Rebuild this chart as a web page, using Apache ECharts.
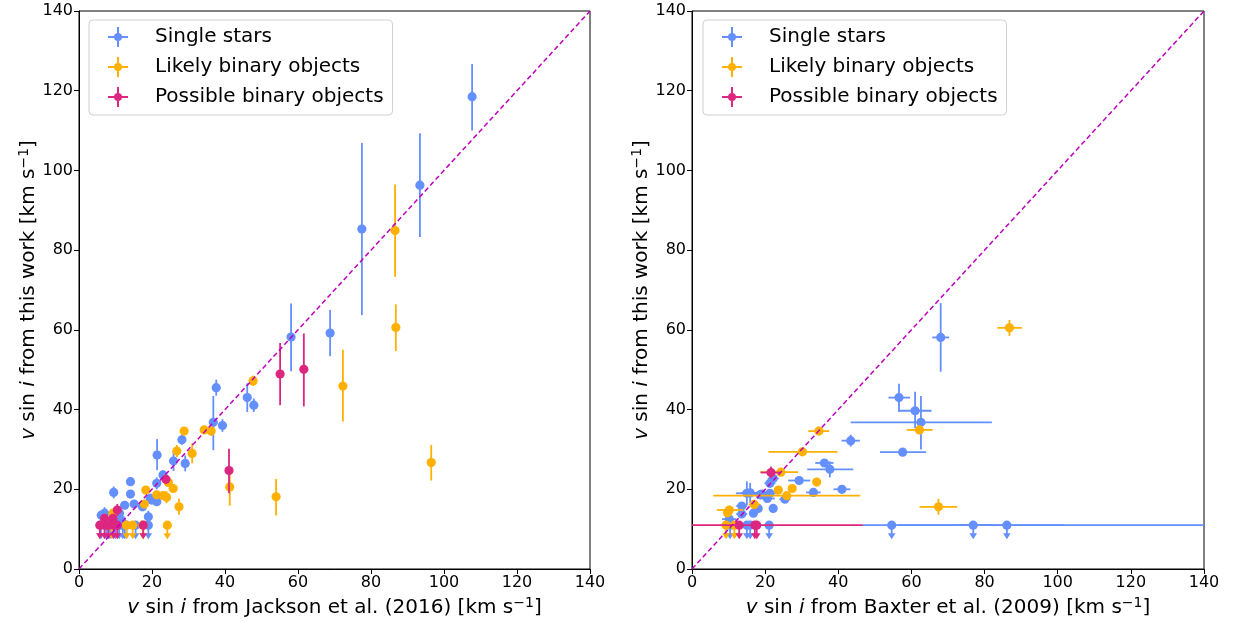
<!DOCTYPE html>
<html>
<head>
<meta charset="utf-8">
<script src="https://cdn.jsdelivr.net/npm/echarts@6/dist/echarts.min.js"></script>
<style>
  html, body { margin: 0; padding: 0; background: #fff; }
  #container { width: 1237px; height: 626px; }
</style>
</head>
<body>
<div id="container"></div>
<script>
// groups
const groupNames = ['Single stars', 'Likely binary objects', 'Possible binary objects'];
const groupColors = ['#648FFF', '#FFB000', '#DC267F'];

// value used for the upper limits (y)
const limitValue = 11;

// left panel: [x, y, yErrDown, yErrUp]
const leftSingle = [
  [107.7, 118.5, 8.5, 8.2], [93.4, 96.3, 13, 13], [77.5, 85.3, 21.6, 21.6],
  [68.8, 59.2, 5.8, 5.8], [58.1, 58.2, 8.6, 8.4], [46.1, 43, 3.6, 3.6],
  [47.9, 41.1, 1.7, 1.7], [37.6, 45.5, 2, 2], [36.8, 36.8, 7, 6.6],
  [39.3, 36, 1.6, 1.6], [21.4, 28.6, 3.8, 4], [14.1, 21.9, 1, 1],
  [9.5, 19.2, 1.5, 1.5], [14.1, 18.8, 1, 1], [28.2, 32.4, 1.2, 1.2],
  [25.9, 27.1, 2.5, 2.5], [29.1, 26.5, 2, 2], [23, 23.6, 1.2, 1.2],
  [21.3, 21.5, 1.5, 1.5], [19.5, 17.7, 1.2, 1.2], [21.3, 16.9, 1, 1],
  [19.9, 17.3, 1, 1], [15.1, 16.3, 1, 1], [12.5, 16, 1, 1],
  [17.4, 15.6, 1, 1], [19, 13.1, 1.5, 1.5], [6.1, 13.5, 1, 1],
  [7, 14, 1.5, 1.5], [9.3, 12.7, 1, 1], [11.1, 14, 1.2, 1.2], [11.6, 12.3, 1, 1]
];
const leftLikely = [
  [86.6, 84.9, 11.6, 11.6], [86.8, 60.6, 5.9, 5.8], [96.5, 26.7, 4.5, 4.4],
  [72.3, 45.9, 8.9, 9.1], [54, 18.1, 4.7, 4.5], [41.3, 20.6, 4.7, 3.4],
  [47.7, 47.2, 1.3, 1.3], [34.3, 34.9, 1, 1], [36.2, 34.6, 1.2, 1.2],
  [28.8, 34.6, 1, 1], [26.8, 29.6, 1.5, 1.5], [31, 29, 2.5, 2.5],
  [24.5, 21.7, 1, 1], [25.8, 20.2, 1, 1], [18.3, 19.8, 1, 1],
  [21.3, 18.6, 1, 1], [23.1, 18.4, 1, 1], [24, 18, 1.5, 1.5],
  [17.9, 16.3, 1, 1], [27.4, 15.6, 2, 2], [9.3, 14, 1, 1]
];
const leftPossible = [
  [55.1, 48.9, 7.8, 7.8], [61.6, 50.1, 9.3, 9], [41.1, 24.7, 5.7, 5.5],
  [23.8, 22.5, 1, 1], [10.5, 14.8, 1.5, 1.5], [7, 12.7, 1, 1], [9.3, 12.7, 1, 1]
];
// left panel upper limits: x
const leftSingleLimits = [6, 7.5, 8.5, 10, 11, 12, 12.5, 13, 15.5, 19];
const leftLikelyLimits = [9, 13, 14.7, 17.5, 24.2];
const leftPossibleLimits = [5.7, 7, 8, 9.5, 10.5, 17.6];

// right panel: [x, y, xErrDown, xErrUp, yErrDown, yErrUp]
const rightSingle = [
  [68, 58.1, 2.3, 2.3, 8.6, 8.6], [56.6, 43, 2.9, 3, 3.6, 3.5],
  [61, 39.7, 4.4, 4.5, 4.3, 4.8], [62.6, 36.8, 19.2, 19.4, 6.8, 6.6],
  [43.4, 32.2, 2.5, 2.5, 1.5, 1.5], [57.6, 29.3, 6.2, 6.4, 0.5, 0.5],
  [36.2, 26.6, 2.5, 2.5, 0.5, 0.5], [37.7, 25, 6.2, 6.4, 2, 2],
  [29.3, 22.2, 3, 3, 0.5, 0.5], [33.2, 19.2, 2, 2, 0.5, 0.5],
  [41, 20, 2.3, 2.3, 0.5, 0.5], [22.2, 15.2, 1, 1, 0.5, 0.5],
  [15, 19, 3, 3, 3, 3], [15.9, 19.1, 2.5, 2.5, 2.5, 2.5],
  [19.1, 18.8, 2, 2, 1, 1], [21.3, 19, 2, 2, 1, 1], [20.6, 17.7, 2, 2, 1, 1],
  [22.2, 22.7, 1.5, 1.5, 1, 1], [21.3, 21.5, 1.5, 1.5, 1, 1],
  [18.6, 18.6, 1.5, 1.5, 1, 1], [25.4, 17.5, 1.5, 1.5, 0.5, 0.5],
  [13.6, 15.8, 1.5, 1.5, 0.5, 0.5], [13.6, 13.8, 1.5, 1.5, 0.5, 0.5],
  [16.8, 14, 1, 1, 0.5, 0.5], [18.1, 15.2, 1, 1, 0.5, 0.5], [10.2, 12.5, 2, 2, 0.5, 0.5]
];
const rightLikely = [
  [86.8, 60.5, 3.3, 3.4, 2, 2], [62.2, 34.9, 3.5, 3.6, 0.5, 0.5],
  [34.7, 34.6, 2.9, 2.8, 0.5, 0.5], [30.2, 29.4, 9.3, 9.6, 0.3, 0.3],
  [24.3, 24.3, 5.7, 4.7, 0.5, 0.5], [34.1, 21.8, 1, 1, 0.5, 0.5],
  [27.4, 20.2, 1, 1, 0.5, 0.5], [23.6, 19.8, 1, 1, 0.5, 0.5],
  [25.9, 18.4, 20.1, 20.1, 0.3, 0.3], [67.4, 15.6, 5.2, 5.1, 2, 2],
  [17, 16.2, 1.5, 1.5, 1, 1], [10.2, 14.8, 3.4, 3.8, 1, 1], [9.7, 14.1, 1, 1, 0.5, 0.5]
];
const rightPossible = [
  [21.6, 24.2, 2.8, 2.5, 1.5, 1.5]
];
// right panel upper limits: [x, xErrDown, xErrUp]
const rightSingleLimits = [
  [10.4, 1, 1], [15, 1, 1], [15.9, 1, 1], [21.1, 1, 1],
  [54.6, 8, 47], [76.9, 5, 5], [86.1, 30, 60]
];
const rightLikelyLimits = [[9.3, 1, 1], [11.6, 1, 1]];
const rightPossibleLimits = [[12.9, 12.9, 33.8], [17.2, 1, 1], [17.7, 1, 1]];

// ---- build items [x, y, xdn, xup, ydn, yup, isLimit]
function leftItems(points, limits) {
  return points.map(p => [p[0], p[1], 0, 0, p[2], p[3], 0])
    .concat(limits.map(x => [x, limitValue, 0, 0, 0, 0, 1]));
}
function rightItems(points, limits) {
  return points.map(p => [p[0], p[1], p[2], p[3], p[4], p[5], 0])
    .concat(limits.map(l => [l[0], limitValue, l[1], l[2], 0, 0, 1]));
}

function renderErr(color) {
  return function (params, api) {
    const x = api.value(0), y = api.value(1);
    const xdn = api.value(2), xup = api.value(3);
    const ydn = api.value(4), yup = api.value(5);
    const isLimit = api.value(6);
    const c = api.coord([x, y]);
    const lw = 1.8;
    const kids = [];
    if (xdn || xup) {
      const a = api.coord([x - xdn, y]), b = api.coord([x + xup, y]);
      kids.push({ type: 'line', shape: { x1: a[0], y1: a[1], x2: b[0], y2: b[1] },
        style: { stroke: color, lineWidth: lw } });
    }
    if (ydn || yup) {
      const a = api.coord([x, y - ydn]), b = api.coord([x, y + yup]);
      kids.push({ type: 'line', shape: { x1: a[0], y1: a[1], x2: b[0], y2: b[1] },
        style: { stroke: color, lineWidth: lw } });
    }
    if (isLimit) {
      kids.push({ type: 'line', shape: { x1: c[0], y1: c[1], x2: c[0], y2: c[1] + 9 },
        style: { stroke: color, lineWidth: lw } });
      kids.push({ type: 'polygon',
        shape: { points: [[c[0] - 3.8, c[1] + 8], [c[0] + 3.8, c[1] + 8], [c[0], c[1] + 14]] },
        style: { fill: color } });
    }
    kids.push({ type: 'circle', shape: { cx: c[0], cy: c[1], r: 4.6 }, style: { fill: color } });
    return { type: 'group', children: kids };
  };
}

const legendIcon = 'path://M9,0h2v20h-2z M0,9h20v2h-20z M6,10a4,4 0 1,1 8,0a4,4 0 1,1 -8,0z';

const font = 'DejaVu Sans';

function makeAxisName(src) {
  return '{i|v} sin {i|i} from ' + src + ' [km s{sup|\u22121}]';
}
const nameStyle = {
  color: '#000', fontFamily: font, fontSize: 20,
  rich: {
    i: { fontStyle: 'italic', fontFamily: font, fontSize: 20 },
    sup: { fontFamily: font, fontSize: 14, padding: [0, 0, 9, 0] }
  }
};

function makeX(gridIndex, src) {
  return {
    gridIndex, type: 'value', min: 0, max: 140, interval: 20,
    name: makeAxisName(src), nameLocation: 'middle', nameGap: 24,
    nameTextStyle: nameStyle,
    axisLine: { show: true, onZero: false, lineStyle: { color: '#000', width: 1 } },
    axisTick: { show: true, length: 5, lineStyle: { color: '#000' } },
    axisLabel: { color: '#000', fontFamily: font, fontSize: 16, margin: 6 },
    splitLine: { show: false }
  };
}
function makeY(gridIndex) {
  return {
    gridIndex, type: 'value', min: 0, max: 140, interval: 20,
    name: makeAxisName('this work'), nameLocation: 'middle', nameGap: 21, nameRotate: 90,
    nameTextStyle: nameStyle,
    axisLine: { show: true, onZero: false, lineStyle: { color: '#000', width: 1 } },
    axisTick: { show: true, length: 5, lineStyle: { color: '#000' } },
    axisLabel: { color: '#000', fontFamily: font, fontSize: 16, margin: 6 },
    splitLine: { show: false }
  };
}

const panels = [
  [leftItems(leftSingle, leftSingleLimits), leftItems(leftLikely, leftLikelyLimits), leftItems(leftPossible, leftPossibleLimits)],
  [rightItems(rightSingle, rightSingleLimits), rightItems(rightLikely, rightLikelyLimits), rightItems(rightPossible, rightPossibleLimits)]
];

const series = [];
panels.forEach((groups, gi) => {
  groups.forEach((items, k) => {
    series.push({
      type: 'custom', name: groupNames[k],
      xAxisIndex: gi, yAxisIndex: gi, clip: true,
      itemStyle: { color: groupColors[k] },
      renderItem: renderErr(groupColors[k]),
      encode: { x: 0, y: 1 },
      data: items, z: 2 + k, silent: true
    });
  });
  series.push({
    type: 'line', xAxisIndex: gi, yAxisIndex: gi, data: [[0, 0], [140, 140]],
    symbol: 'none', silent: true, z: 10,
    lineStyle: { color: '#BF00BF', width: 1.5, type: [5, 3] }
  });
});

function makeLegend(left) {
  return {
    left, top: 20, orient: 'vertical',
    itemWidth: 20, itemHeight: 20, itemGap: 10,
    padding: [7, 9, 8, 19],
    borderColor: '#d0d0d0', borderWidth: 1, borderRadius: 4,
    backgroundColor: 'rgba(255,255,255,0.8)',
    textStyle: { color: '#000', fontFamily: font, fontSize: 20, padding: [0, 0, 0, 22] },
    data: groupNames.map(n => ({ name: n, icon: legendIcon }))
  };
}

const chart = echarts.init(document.getElementById('container'), null, { renderer: 'canvas' });
chart.setOption({
  animation: false,
  backgroundColor: '#fff',
  legend: [makeLegend(89), makeLegend(703)],
  grid: [
    { left: 79, right: 647, top: 11, bottom: 57, show: true, borderColor: '#000', borderWidth: 1 },
    { left: 692, right: 33, top: 11, bottom: 57, show: true, borderColor: '#000', borderWidth: 1 }
  ],
  xAxis: [makeX(0, 'Jackson et al. (2016)'), makeX(1, 'Baxter et al. (2009)')],
  yAxis: [makeY(0), makeY(1)],
  series
});
</script>
</body>
</html>
